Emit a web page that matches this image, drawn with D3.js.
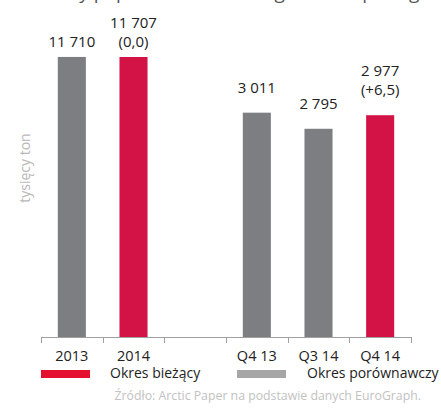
<!DOCTYPE html>
<html>
<head>
<meta charset="utf-8">
<script src="https://cdn.jsdelivr.net/npm/d3@7"></script>
<style>
  body { margin: 0; background: #fff; }
  svg { display: block; font-family: "Open Sans", sans-serif; }
</style>
</head>
<body>
<svg id="chart"></svg>
<script>
// Chart data.
const categories = ["2013", "2014", "", "Q4 13", "Q3 14", "Q4 14"];
const groups = ["year", "year", null, "quarter", "quarter", "quarter"];
const values = [11710, 11707, null, 3011, 2795, 2977];
const changes = [null, "(0,0)", null, null, null, "(+6,5)"];
const current = [false, true, false, false, false, true];
const valueLabels = ["11 710", "11 707", null, "3 011", "2 795", "2 977"];
const legendLabels = ["Okres bieżący", "Okres porównawczy"];

const width = 441;
const height = 408;
const margin = { left: 41, right: 30, baseline: 337 };

const red = "#d31245";
const grey = "#7d7e82";

const svg = d3.select("#chart")
  .attr("width", width)
  .attr("height", height);

function translate(x, y) {
  return "translate(" + String(x) + "," + String(y) + ")";
}

// Title, cut off at the top of the picture (only descenders show).
svg.append("text")
  .attr("x", 13)
  .attr("y", -1)
  .attr("fill", "#555")
  .style("font-size", "19px")
  .text("Dostawy papieru bezdrzewnego w Europie wg okresu i kraju");

// Scales: one band scale, two value scales (years and quarters).
const xScale = d3.scaleBand()
  .domain(d3.range(categories.length))
  .range([margin.left, width - margin.right])
  .padding(0);

const yYear = d3.scaleLinear()
  .domain([0, 12000])
  .range([margin.baseline, 50]);

const yQuarter = d3.scaleLinear()
  .domain([0, 3000])
  .range([margin.baseline, 113.5]);

function yFor(i) {
  return groups[i] === "year" ? yYear : yQuarter;
}

const barWidth = xScale.bandwidth() * 0.455;
const idx = d3.range(categories.length).filter(i => values[i] != null);

// Bars.
svg.append("g")
  .attr("id", "bars")
  .selectAll("rect")
  .data(idx)
  .enter()
  .append("rect")
  .attr("x", i => xScale(i) + (xScale.bandwidth() - barWidth) / 2)
  .attr("width", barWidth)
  .attr("y", i => yFor(i)(values[i]))
  .attr("height", i => margin.baseline - yFor(i)(values[i]))
  .attr("fill", i => current[i] ? red : grey);

// Value labels.
const labels = svg.append("g")
  .attr("id", "labels")
  .selectAll("text")
  .data(idx)
  .enter()
  .append("text")
  .attr("text-anchor", "middle")
  .attr("fill", "#222")
  .style("font-size", "15px")
  .attr("x", i => xScale(i) + xScale.bandwidth() / 2)
  .attr("y", i => {
    let off = groups[i] === "year" ? 10 : 20;
    return yFor(i)(values[i]) - off - (changes[i] ? 19 : 0);
  });

labels.append("tspan").text(i => valueLabels[i]);
labels.filter(i => changes[i])
  .append("tspan")
  .attr("x", i => xScale(i) + xScale.bandwidth() / 2)
  .attr("dy", 19)
  .text(i => changes[i]);

// Baseline axis with ticks at band boundaries.
const xAxis = svg.append("g").attr("id", "x-axis");
xAxis.append("line")
  .attr("x1", margin.left)
  .attr("x2", width - margin.right)
  .attr("y1", margin.baseline + 0.5)
  .attr("y2", margin.baseline + 0.5)
  .attr("stroke", "#a0a0a0");

const edges = d3.range(categories.length).map(i => xScale(i)).concat([xScale.range()[1]]);
xAxis.selectAll("line.tick")
  .data(edges)
  .enter()
  .append("line")
  .attr("class", "tick")
  .attr("x1", d => Math.round(d) + 0.5)
  .attr("x2", d => Math.round(d) + 0.5)
  .attr("y1", margin.baseline)
  .attr("y2", margin.baseline + 6)
  .attr("stroke", "#a0a0a0");

xAxis.selectAll("text")
  .data(d3.range(categories.length))
  .enter()
  .append("text")
  .attr("x", i => xScale(i) + xScale.bandwidth() / 2)
  .attr("y", 361)
  .attr("text-anchor", "middle")
  .attr("fill", "#222")
  .style("font-size", "14.5px")
  .text(i => categories[i]);

// Y title.
svg.append("g")
  .attr("transform", translate(25, 168))
  .append("text")
  .attr("transform", "rotate(-90)")
  .attr("text-anchor", "middle")
  .attr("dy", "0.35em")
  .attr("fill", "#b8b8b8")
  .style("font-size", "14px")
  .text("tysięcy ton");

// Legend.
const legend = svg.append("g").attr("id", "legend");
const legendItems = [
  { x: 41, color: "#e3102f", text: legendLabels[0], tx: 110 },
  { x: 237, color: "#a6a6a6", text: legendLabels[1], tx: 307 }
];
legend.selectAll("rect")
  .data(legendItems)
  .enter()
  .append("rect")
  .attr("x", d => d.x)
  .attr("y", 370)
  .attr("width", 49)
  .attr("height", 8)
  .attr("fill", d => d.color);
legend.selectAll("text")
  .data(legendItems)
  .enter()
  .append("text")
  .attr("x", d => d.tx)
  .attr("y", 378)
  .attr("fill", "#222")
  .style("font-size", "14px")
  .text(d => d.text);

// Source note.
svg.append("text")
  .attr("x", 421)
  .attr("y", 400)
  .attr("text-anchor", "end")
  .attr("fill", "#c2c2c2")
  .style("font-size", "12.3px")
  .text("Źródło: Arctic Paper na podstawie danych EuroGraph.");
</script>
</body>
</html>
